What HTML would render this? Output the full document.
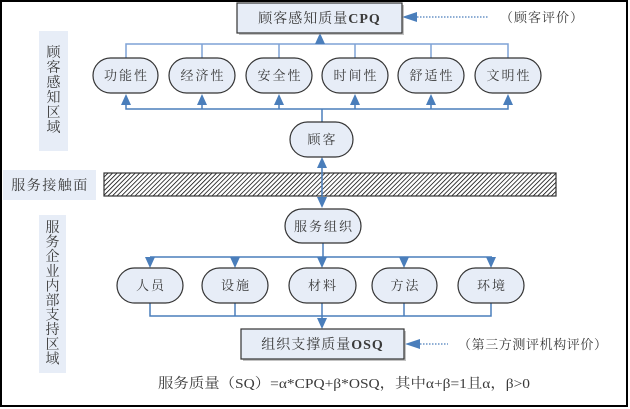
<!DOCTYPE html>
<html><head><meta charset="utf-8"><style>
html,body{margin:0;padding:0;background:#fff;}
svg{display:block;}
text{font-family:"Liberation Serif","Noto Serif CJK SC",serif;fill:#3a3a3a;}
.cj{font-size:13px;letter-spacing:2px;}
</style></head><body>
<svg width="630" height="409" viewBox="0 0 630 409" xmlns="http://www.w3.org/2000/svg">
<defs>
<pattern id="hatch" patternUnits="userSpaceOnUse" width="3.2" height="3.2" patternTransform="rotate(45)">
<rect width="3.2" height="3.2" fill="#fff"/>
<line x1="0" y1="0" x2="0" y2="3.2" stroke="#000" stroke-width="1.5"/>
</pattern>
</defs>
<rect x="1" y="1" width="626" height="405" fill="#fff" stroke="#000" stroke-width="2"/>

<!-- side labels -->
<rect x="39" y="31" width="29" height="120" fill="#e7edf7"/>
<g font-size="14" text-anchor="middle">
<text x="53.5" y="57">顾</text><text x="53.5" y="72">客</text><text x="53.5" y="87">感</text><text x="53.5" y="102">知</text><text x="53.5" y="117">区</text><text x="53.5" y="132">域</text>
</g>
<rect x="39" y="215" width="27" height="158" fill="#e7edf7"/>
<g font-size="14" text-anchor="middle">
<text x="52.5" y="232">服</text><text x="52.5" y="246.6">务</text><text x="52.5" y="261.2">企</text><text x="52.5" y="275.8">业</text><text x="52.5" y="290.4">内</text><text x="52.5" y="305">部</text><text x="52.5" y="319.6">支</text><text x="52.5" y="334.2">持</text><text x="52.5" y="348.8">区</text><text x="52.5" y="363.4">域</text>
</g>
<rect x="3" y="170" width="93" height="30" fill="#e7edf7"/>
<text x="50" y="190" font-size="14" letter-spacing="1.5" text-anchor="middle">服务接触面</text>

<!-- hatched bar -->
<rect x="104" y="173" width="452" height="23" fill="url(#hatch)" stroke="#333" stroke-width="1.2"/>

<!-- connectors top -->
<g stroke="#7fa2d6" stroke-width="1.5" fill="none">
<polyline points="126,58 126,44 508,44 508,58"/>
<line x1="202" y1="44" x2="202" y2="58"/><line x1="279" y1="44" x2="279" y2="58"/>
<line x1="355" y1="44" x2="355" y2="58"/><line x1="431" y1="44" x2="431" y2="58"/>
</g>
<g stroke="#4a7ebb" stroke-width="1.5" fill="none">
<line x1="320" y1="44" x2="320" y2="40"/>
<polyline points="126,100 126,109 508,109 508,100"/>
<line x1="202" y1="109" x2="202" y2="100"/><line x1="279" y1="109" x2="279" y2="100"/>
<line x1="355" y1="109" x2="355" y2="100"/><line x1="431" y1="109" x2="431" y2="100"/>
<line x1="322" y1="109" x2="322" y2="122"/>
<line x1="322" y1="165" x2="322" y2="200"/>
<line x1="323" y1="243" x2="323" y2="257"/>
<line x1="150" y1="257" x2="492" y2="257"/>
<polyline points="150,303 150,316 491,316 491,303"/>
<line x1="235" y1="303" x2="235" y2="316"/><line x1="322" y1="303" x2="322" y2="322"/><line x1="404" y1="303" x2="404" y2="316"/>
</g>
<g fill="#4a7ebb">
<polygon points="320,33 315,44 325,44"/>
<polygon points="126,94 121,105 131,105"/><polygon points="202,94 197,105 207,105"/>
<polygon points="279,94 274,105 284,105"/><polygon points="355,94 350,105 360,105"/>
<polygon points="431,94 426,105 436,105"/><polygon points="508,94 503,105 513,105"/>
<polygon points="322,157 317,168 327,168"/><polygon points="322,208 317,197 327,197"/>
<polygon points="150,268 145,257 155,257"/><polygon points="235,268 230,257 240,257"/>
<polygon points="322,268 317,257 327,257"/><polygon points="404,268 399,257 409,257"/>
<polygon points="491,268 486,257 496,257"/>
<polygon points="322,329 317,318 327,318"/>
<polygon points="402,17 417,12 417,22"/>
<polygon points="405,344 420,339 420,349"/>
</g>
<g stroke="#4a7ebb" stroke-width="1.2" stroke-dasharray="1.5,1.5">
<line x1="417" y1="17" x2="489" y2="17"/>
<line x1="420" y1="344" x2="448" y2="344"/>
</g>

<!-- boxes -->
<rect x="239" y="5" width="165" height="30" fill="#888" opacity="0.5"/>
<rect x="237" y="3" width="165" height="30" fill="#e7edf7" stroke="#333" stroke-width="1.2"/>
<text x="319.5" y="23" font-size="14" text-anchor="middle" letter-spacing="1">顾客感知质量<tspan font-weight="bold">CPQ</tspan></text>
<rect x="243" y="331" width="163" height="30" fill="#888" opacity="0.5"/>
<rect x="241" y="329" width="163" height="30" fill="#e7edf7" stroke="#333" stroke-width="1.2"/>
<text x="322.5" y="349" font-size="14" text-anchor="middle" letter-spacing="1">组织支撑质量<tspan font-weight="bold">OSQ</tspan></text>

<!-- pills -->
<g fill="#e7edf7" stroke="#333" stroke-width="1.2">
<rect x="93" y="58" width="65" height="35" rx="17.5"/>
<rect x="169" y="58" width="66" height="35" rx="17.5"/>
<rect x="246" y="58" width="66" height="35" rx="17.5"/>
<rect x="322" y="58" width="66" height="35" rx="17.5"/>
<rect x="398" y="58" width="66" height="35" rx="17.5"/>
<rect x="475" y="58" width="66" height="35" rx="17.5"/>
<rect x="290" y="122" width="63" height="35" rx="17.5"/>
<rect x="285" y="209" width="76" height="34" rx="17"/>
<rect x="117" y="268" width="66" height="35" rx="17.5"/>
<rect x="202" y="268" width="66" height="35" rx="17.5"/>
<rect x="289" y="268" width="67" height="35" rx="17.5"/>
<rect x="372" y="268" width="65" height="35" rx="17.5"/>
<rect x="458" y="268" width="66" height="35" rx="17.5"/>
</g>
<g class="cj" text-anchor="middle">
<text x="126.5" y="80">功能性</text>
<text x="203" y="80">经济性</text>
<text x="280" y="80">安全性</text>
<text x="356" y="80">时间性</text>
<text x="432" y="80">舒适性</text>
<text x="509" y="80">文明性</text>
<text x="322.5" y="144">顾客</text>
<text x="324" y="231">服务组织</text>
<text x="151" y="290">人员</text>
<text x="236" y="290">设施</text>
<text x="323" y="290">材料</text>
<text x="405.5" y="290">方法</text>
<text x="492" y="290">环境</text>
</g>

<text x="500" y="22" font-size="13" letter-spacing="1">（顾客评价）</text>
<text x="458" y="349" font-size="13" letter-spacing="0.6">（第三方测评机构评价）</text>

<text x="158" y="388" font-size="14" textLength="372" lengthAdjust="spacingAndGlyphs">服务质量（SQ）=α*CPQ+β*OSQ，其中α+β=1且α，β&gt;0</text>
</svg>
</body></html>
